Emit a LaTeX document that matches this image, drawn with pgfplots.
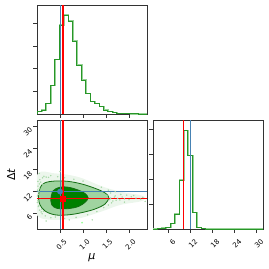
\documentclass[border=0pt]{standalone}
\usepackage{pgfplots}
\pgfplotsset{compat=1.18}
\usepackage{fontspec}
\setmainfont{DejaVu Sans}
\definecolor{steel}{HTML}{4682B4}
\definecolor{hgreen}{RGB}{40,150,40}
\definecolor{hlight}{RGB}{150,210,150}
\definecolor{cdark}{RGB}{0,128,0}
\definecolor{clight}{RGB}{160,212,160}
\definecolor{cline}{RGB}{20,110,20}
\definecolor{dotc}{RGB}{170,218,170}
\definecolor{haze}{RGB}{236,246,236}
\begin{document}
\begin{tikzpicture}
\useasboundingbox (0pt,0pt) rectangle (269pt,269pt);
\pgfplotsset{
  cornerax/.style={scale only axis, width=110pt, height=109pt, anchor=south west,
    axis line style={black!80, line width=0.6pt},
    tick align=outside, major tick length=3.5pt,
    every tick/.style={black!80, line width=0.6pt},
    tick pos=left,
    /pgf/number format/assume math mode=true,
    ticklabel style={font=\fontsize{7}{8}\selectfont},
  },
}
% ---- top-left: mu histogram
\begin{axis}[cornerax, at={(37pt,155pt)}, xmin=0, xmax=2.39, ymin=0, ymax=327,
  xtick={0.5,1,1.5,2}, xticklabels={}, ytick={68,136,204,272}, yticklabels={}]
\addplot[const plot, hlight, line width=1.6pt, xshift=0.6pt] coordinates {
(0,0) (0,8) (0.096,12) (0.192,32) (0.288,85) (0.384,164) (0.48,267) (0.576,297) (0.672,279)
(0.768,219) (0.864,147) (0.96,102) (1.056,62) (1.152,37) (1.248,32) (1.344,22) (1.44,12)
(1.536,7) (1.632,4) (1.728,2) (1.824,1) (1.92,1) (2.016,0.5) (2.112,0.5) (2.208,0.3) (2.304,0.2) (2.4,0.2)};
\addplot[const plot, hgreen, line width=0.7pt] coordinates {
(0,0) (0,8) (0.096,12) (0.192,32) (0.288,85) (0.384,164) (0.48,267) (0.576,297) (0.672,279)
(0.768,219) (0.864,147) (0.96,102) (1.056,62) (1.152,37) (1.248,32) (1.344,22) (1.44,12)
(1.536,7) (1.632,4) (1.728,2) (1.824,1) (1.92,1) (2.016,0.5) (2.112,0.5) (2.208,0.3) (2.304,0.2) (2.4,0.2)};
\addplot[steel, line width=0.9pt] coordinates {(0.5,0) (0.5,327)};
\addplot[red, line width=1.1pt] coordinates {(0.565,0) (0.565,327)};
\end{axis}
% ---- bottom-right: dt histogram
\begin{axis}[cornerax, at={(153pt,40pt)}, xmin=1.7, xmax=31.7, ymin=0, ymax=327,
  xtick={6,12,18,24,30}, ytick={73,148,223,298}, yticklabels={},
  xticklabel style={xshift=3.5pt, yshift=-1pt, rotate=45, anchor=north east}]
\addplot[const plot, hlight, line width=1.6pt, xshift=0.6pt] coordinates {
(1.6,0) (2.8,1) (4.0,3) (5.2,5) (6.4,17) (7.6,45) (8.8,147) (10.0,295) (11.2,220)
(12.4,50) (13.6,5) (14.8,1) (16.0,0) (32.8,0)};
\addplot[const plot, hgreen, line width=0.7pt] coordinates {
(1.6,0) (2.8,1) (4.0,3) (5.2,5) (6.4,17) (7.6,45) (8.8,147) (10.0,295) (11.2,220)
(12.4,50) (13.6,5) (14.8,1) (16.0,0) (32.8,0)};
\addplot[steel, line width=0.9pt] coordinates {(12,0) (12,327)};
\addplot[red, line width=1.1pt] coordinates {(10.1,0) (10.1,327)};
\end{axis}
% ---- bottom-left: 2D
\begin{axis}[cornerax, at={(37pt,40pt)}, xmin=0, xmax=2.39, ymin=1.7, ymax=31.7,
  xtick={0.5,1,1.5,2}, xticklabels={0.5,1.0,1.5,2.0},
  ytick={6,12,18,24,30},
  xticklabel style={xshift=3.5pt, yshift=-1pt, rotate=45, anchor=north east},
  yticklabel style={rotate=45, anchor=east},
  xlabel={\fontsize{11}{12}\selectfont\itshape μ},
  ylabel={\fontsize{11}{12}\selectfont Δ\textit{t}},
  every axis x label/.style={at={(axis description cs:0.5,-0.266)}, anchor=center},
  every axis y label/.style={at={(axis description cs:-0.236,0.5)}, rotate=90, anchor=center}]
\addplot[smooth, tension=0.6, fill=haze, draw=none] coordinates {
(0,5.5) (0,16.5) (0.4,17.0) (0.9,16.0) (1.4,13.5) (1.8,12.0) (2.25,11.0) (2.35,10.2)
(2.25,9.3) (1.8,8.3) (1.4,6.5) (0.9,4.6) (0.4,4.2) (0.1,4.6) (0,5.5)} -- cycle;
\addplot[only marks, mark=*, mark size=0.5pt, color=dotc] coordinates {
(0.02,9.5) (0.03,11.2) (0.05,12.8) (0.04,8.1) (0.08,14.6) (0.06,15.3) (0.1,7.2) (0.12,15.8)
(0.02,13.5) (0.07,10.4) (0.03,7.9) (0.15,16.2) (0.09,6.4) (0.2,16.0) (0.01,10.8) (0.05,14.1)
(0.11,5.9) (0.18,5.3) (0.25,15.9) (0.3,16.4) (0.14,6.6) (0.04,12.1) (0.45,16.1) (0.6,15.8)
(0.8,15.4) (1.0,14.9) (0.4,5.0) (0.6,4.6) (0.85,4.9) (1.1,5.6) (0.3,4.8) (1.3,6.5) (0.7,4.2)
(1.6,10.2) (1.65,9.4) (1.7,10.8) (1.75,10.1) (1.8,9.7) (1.85,10.5) (1.9,10.0) (2.0,9.8)
(2.05,10.6) (2.15,10.2) (2.25,9.9) (1.6,11.6) (1.62,8.9) (1.7,12.0) (1.95,11.0) (2.3,10.4)
(1.55,12.4) (1.55,8.3) (1.4,13.2) (1.45,7.6) (0.2,3.9) (1.2,4.2) (2.35,9.3) (0.5,17.5) (0.05,17.0)
(0.01,12.4) (0.02,14.8) (0.06,6.9) (0.01,9.0) (0.13,13.9) (1.68,10.5) (1.72,9.6) (1.58,9.8)
(1.82,11.2) (1.9,9.1) (2.1,10.9) (1.52,11.0)};
\addplot[only marks, mark=*, mark size=0.7pt, color=green!40!white] coordinates {(0.98,3.45)};
\addplot[smooth, tension=0.6, fill=clight, draw=cline, line width=0.8pt] coordinates {
(0.03,10.6) (0.07,13.1) (0.17,14.4) (0.39,14.9) (0.68,14.8) (0.97,14.1) (1.26,12.9) (1.47,11.7)
(1.56,10.4) (1.48,8.6) (1.26,7.2) (0.97,6.2) (0.68,5.6) (0.39,5.6) (0.17,6.7) (0.06,8.5) (0.03,10.6)} -- cycle;
\addplot[smooth, tension=0.6, fill=cdark, draw=cline, line width=0.8pt] coordinates {
(0.30,10.0) (0.35,12.2) (0.5,13.2) (0.68,13.2) (0.9,12.4) (1.04,11.5) (1.11,10.3) (1.04,9.0)
(0.9,7.9) (0.68,7.3) (0.43,7.4) (0.32,8.4) (0.30,10.0)} -- cycle;
\addplot[steel, line width=0.9pt] coordinates {(0.5,1.7) (0.5,31.7)};
\addplot[steel, line width=0.9pt] coordinates {(0,12) (2.39,12)};
\addplot[red, line width=1.1pt] coordinates {(0.565,1.7) (0.565,31.7)};
\addplot[red, line width=1.1pt] coordinates {(0,10.1) (2.39,10.1)};
\addplot[only marks, mark=*, mark size=2.6pt, steel] coordinates {(0.5,12)};
\addplot[only marks, mark=square*, mark size=2.6pt, red] coordinates {(0.565,10.1)};
\end{axis}
\end{tikzpicture}
\end{document}
